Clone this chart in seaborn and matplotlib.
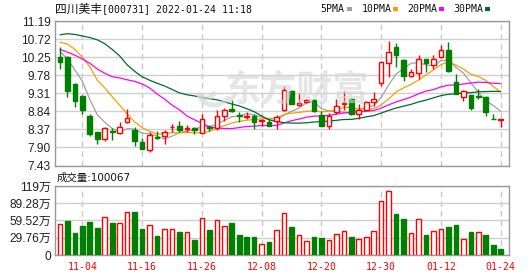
import numpy as np
import pandas as pd
import matplotlib
matplotlib.use("Agg")
import matplotlib.pyplot as plt
from matplotlib.patches import Rectangle, Arc
import seaborn as sns

# ---------------- data ----------------
title_name = "四川美丰"
title_rest = "[000731] 2022-01-24 11:18"
volume_label = "成交量:100067"
watermark = "东方财富"

dates = [d.strftime("%m-%d") for d in pd.bdate_range("2021-11-01", "2022-01-24")
         if d != pd.Timestamp("2022-01-03")]

opens = [10.25, 10.25, 9.55, 9.24, 8.72, 8.30, 8.13, 8.32, 8.27, 8.57,
         8.36, 8.05, 7.84, 8.16, 8.20, 8.42, 8.46, 8.38, 8.41, 8.27,
         8.44, 8.41, 8.72, 8.91, 8.75, 8.70, 8.72, 8.59, 8.57, 8.60,
         8.88, 9.38, 9.00, 9.09, 9.14, 8.74, 8.45, 8.83, 9.03, 9.16,
         8.77, 8.88, 9.09, 9.57, 10.11, 10.52, 10.18, 9.76, 9.83, 10.20,
         10.04, 10.25, 10.44, 9.61, 9.22, 9.26, 9.24, 9.21, 8.65, 8.61]
highs = [10.51, 10.28, 9.57, 9.26, 8.77, 8.31, 8.43, 8.41, 8.57, 8.91,
         8.43, 8.15, 8.29, 8.32, 8.36, 8.51, 8.60, 8.48, 8.43, 8.76,
         8.48, 8.88, 8.93, 9.14, 8.83, 8.83, 8.77, 8.65, 8.65, 8.74,
         9.50, 9.40, 9.31, 9.16, 9.17, 8.86, 8.79, 9.17, 9.38, 9.18,
         9.03, 9.12, 9.33, 10.14, 10.66, 10.61, 10.20, 9.94, 10.31, 10.21,
         10.31, 10.57, 10.64, 9.81, 9.40, 9.27, 9.43, 9.24, 8.77, 8.64]
lows = [9.94, 9.22, 8.95, 8.77, 8.20, 7.99, 8.06, 8.10, 8.24, 8.53,
        7.94, 7.87, 7.77, 8.12, 7.99, 8.31, 8.29, 8.29, 8.24, 8.27,
        8.33, 8.36, 8.60, 8.83, 8.57, 8.65, 8.39, 8.46, 8.46, 8.39,
        8.86, 9.03, 8.98, 9.05, 8.83, 8.46, 8.39, 8.77, 8.88, 8.74,
        8.65, 8.86, 8.98, 9.50, 9.73, 9.99, 9.62, 9.74, 9.68, 9.85,
        9.95, 10.24, 9.87, 9.29, 9.12, 8.88, 9.17, 8.72, 8.64, 8.43]
closes = [10.13, 9.38, 9.12, 8.88, 8.24, 8.13, 8.41, 8.30, 8.43, 8.67,
          8.08, 7.87, 8.22, 8.14, 8.29, 8.44, 8.36, 8.40, 8.36, 8.65,
          8.41, 8.72, 8.88, 8.84, 8.73, 8.72, 8.55, 8.61, 8.46, 8.69,
          9.40, 9.04, 9.05, 9.14, 8.86, 8.46, 8.72, 8.98, 9.06, 8.76,
          8.88, 9.07, 9.17, 10.12, 10.39, 10.31, 9.76, 9.87, 10.20, 10.09,
          10.20, 10.44, 9.90, 9.29, 9.36, 8.93, 9.21, 8.81, 8.64, 8.63]
# volume in 万 (10k)
volumes = [53.5, 59.2, 38.5, 50.0, 56.9, 46.6, 65.0, 55.7, 55.2, 73.6,
           74.2, 44.8, 51.2, 32.8, 44.3, 44.3, 39.7, 39.7, 25.9, 63.3,
           43.1, 59.8, 50.0, 55.7, 34.5, 31.0, 31.0, 19.0, 22.4, 42.6,
           71.9, 48.3, 33.9, 24.1, 31.0, 29.3, 25.9, 36.2, 41.4, 31.0,
           27.6, 30.5, 41.4, 93.1, 110.4, 71.3, 62.1, 37.9, 61.6, 34.5,
           41.4, 44.3, 48.3, 51.7, 27.6, 40.2, 39.7, 34.5, 17.2, 10.0]
# volume bar colour: 1 = up day (red), 0 = down day (green)
volume_up = [1, 0, 0, 0, 0, 0, 1, 0, 1, 1, 0, 0, 1, 0, 1, 1, 0, 1, 0, 1,
             0, 1, 1, 0, 0, 0, 0, 1, 0, 1, 1, 0, 1, 1, 0, 0, 1, 1, 1, 0,
             1, 1, 1, 1, 1, 0, 0, 1, 1, 0, 1, 1, 0, 0, 1, 0, 1, 0, 0, 0]

# moving-average values before enough history is visible
ma5_head = [10.40, 10.20, 9.92, 9.62]
ma10_head = [10.64, 10.59, 10.45, 10.25, 10.00, 9.65, 9.45, 9.22, 9.00]
ma20_head = [10.45, 10.38, 10.30, 10.20, 10.09, 9.94, 9.83, 9.74, 9.71, 9.66,
             9.62, 9.55, 9.45, 9.29, 9.16, 9.00, 8.88, 8.72, 8.62]
ma30_head = [10.83, 10.86, 10.84, 10.80, 10.76, 10.70, 10.60, 10.45, 10.28, 10.05,
             9.88, 9.74, 9.65, 9.57, 9.50, 9.41, 9.32, 9.27, 9.24, 9.20,
             9.17, 9.14, 9.09, 9.03, 8.98, 8.91, 8.83, 8.72, 8.62]

tick_labels = ["11-04", "11-16", "11-26", "12-08", "12-20", "12-30", "01-12", "01-24"]
price_ticks = [7.43, 7.90, 8.37, 8.84, 9.31, 9.78, 10.25, 10.72, 11.19]
vol_ticks = [0, 29.76, 59.52, 89.28, 119]
vol_tick_labels = ["0", "29.76万", "59.52万", "89.28万", "119万"]

ma_names = ["5PMA", "10PMA", "20PMA", "30PMA"]
ma_colors = ["#a0a0a0", "#f5a000", "#ff00ff", "#006a30"]

# ---------------- derived ----------------
close_s = pd.Series(closes)
def moving_avg(n, head):
    vals = close_s.rolling(n).mean().to_numpy()
    vals[:len(head)] = head
    return vals

mas = [moving_avg(5, ma5_head), moving_avg(10, ma10_head),
       moving_avg(20, ma20_head), moving_avg(30, ma30_head)]

df = pd.DataFrame({"date": dates, "open": opens, "high": highs,
                   "low": lows, "close": closes, "vol": volumes})
df["x"] = np.arange(len(df))
tick_pos = [dates.index(t) for t in tick_labels]

RED = "#ff0000"
GREEN = "#008000"

# ---------------- figure ----------------
sns.set_theme(style="white")
plt.rcParams["font.family"] = ["Liberation Sans", "Noto Sans CJK SC"]

W, H = 530, 276
fig = plt.figure(figsize=(W / 100, H / 100), dpi=100)
fig.patch.set_facecolor("white")

def fx(px):
    return px / W

def fy(py):
    return 1 - py / H

L, R = 55, 509
ax = fig.add_axes([fx(L), fy(165.5), (R - L) / W, (165.5 - 21) / H])
axv = fig.add_axes([fx(L), fy(255), (R - L) / W, (255 - 186) / H])

xlim = (-0.66, 60.11)
for a in (ax, axv):
    a.set_xlim(*xlim)
    a.set_facecolor("white")
    a.set_axisbelow(True)
    for s in a.spines.values():
        s.set_color("#999999")
        s.set_linewidth(1.0)
    a.set_xticks(tick_pos)
    a.grid(axis="x", color="#c8c8c8", linestyle=(0, (4, 3)), linewidth=1)
    a.grid(axis="y", color="#d0d0d0", linestyle="-", linewidth=1)
    a.tick_params(length=0)

# watermark (logo swoosh + text)
fig.text(fx(297), fy(90), watermark, ha="center", va="center",
         fontsize=26, fontweight="bold", color="#d4d4d4", alpha=0.6,
         family=["Noto Sans CJK SC"], zorder=1)
for (cx, cy, w, h, t1, t2) in [(214, 92, 30, 26, 200, 330), (206, 90, 18, 16, 210, 340)]:
    fig.patches.append(Arc((fx(cx), fy(cy)), w / W, h / H, theta1=t1, theta2=t2,
                           transform=fig.transFigure, color="#d4d4d4", alpha=0.6,
                           linewidth=3.5, zorder=1))

# price panel
ax.set_ylim(price_ticks[0], price_ticks[-1])
ax.set_yticks(price_ticks)
ax.set_yticklabels([f"{t:.2f}" for t in price_ticks], fontsize=8.6, color="#222222")
ax.tick_params(axis="y", pad=3)
ax.set_xticklabels([])

for ma, c in zip(mas, ma_colors):
    sns.lineplot(x=df["x"], y=ma, ax=ax, color=c, linewidth=0.9, zorder=2, legend=False)

up = df["close"] >= df["open"]
cols = np.where(up, RED, GREEN)
ax.vlines(df["x"], df["low"], df["high"], colors=cols, linewidth=1, zorder=3)
heights = np.maximum((df["close"] - df["open"]).abs(), 0.012)
bottoms = np.minimum(df["open"], df["close"])
ax.bar(df["x"], heights, bottom=bottoms, width=0.62,
       color=np.where(up, "white", GREEN), edgecolor=cols, linewidth=1, zorder=4)
ax.set_xlabel("")
ax.set_ylabel("")

# volume panel
vcols = np.where(np.array(volume_up) == 1, RED, GREEN)
axv.bar(df["x"], df["vol"], width=0.62,
        color=np.where(np.array(volume_up) == 1, "white", GREEN),
        edgecolor=vcols, linewidth=1, zorder=3)
axv.set_ylim(0, vol_ticks[-1])
axv.set_yticks(vol_ticks)
axv.set_yticklabels(vol_tick_labels, fontsize=8.6, color="#222222")
axv.tick_params(axis="y", pad=3)
axv.set_xticklabels(tick_labels, fontsize=7.1, color=RED, family=["DejaVu Sans Mono"])
axv.tick_params(axis="x", pad=5)
axv.set_xlabel("")
axv.set_ylabel("")

# header
fig.text(fx(55), fy(9), title_name, ha="left", va="center", fontsize=8.5,
         color="#111111", family=["Noto Sans CJK SC"])
fig.text(fx(102), fy(9), title_rest, ha="left", va="center", fontsize=7.1,
         color="#111111", family=["DejaVu Sans Mono"])

leg_text_x = [320.5, 362, 407, 453]
leg_box_x = [347, 393, 439, 485]
for name, c, tx, bx in zip(ma_names, ma_colors, leg_text_x, leg_box_x):
    fig.text(fx(tx), fy(9), name, ha="left", va="center", fontsize=7.1,
             color="#111111", family=["DejaVu Sans Mono"])
    fig.patches.append(Rectangle((fx(bx), fy(11)), 5 / W, 4 / H, transform=fig.transFigure,
                                 facecolor=c, edgecolor="none"))

fig.text(fx(57), fy(178), volume_label, ha="left", va="center", fontsize=7.5,
         color="#111111", family=["DejaVu Sans", "Noto Sans CJK SC"])

fig.savefig("out.png", dpi=100, facecolor="white")
